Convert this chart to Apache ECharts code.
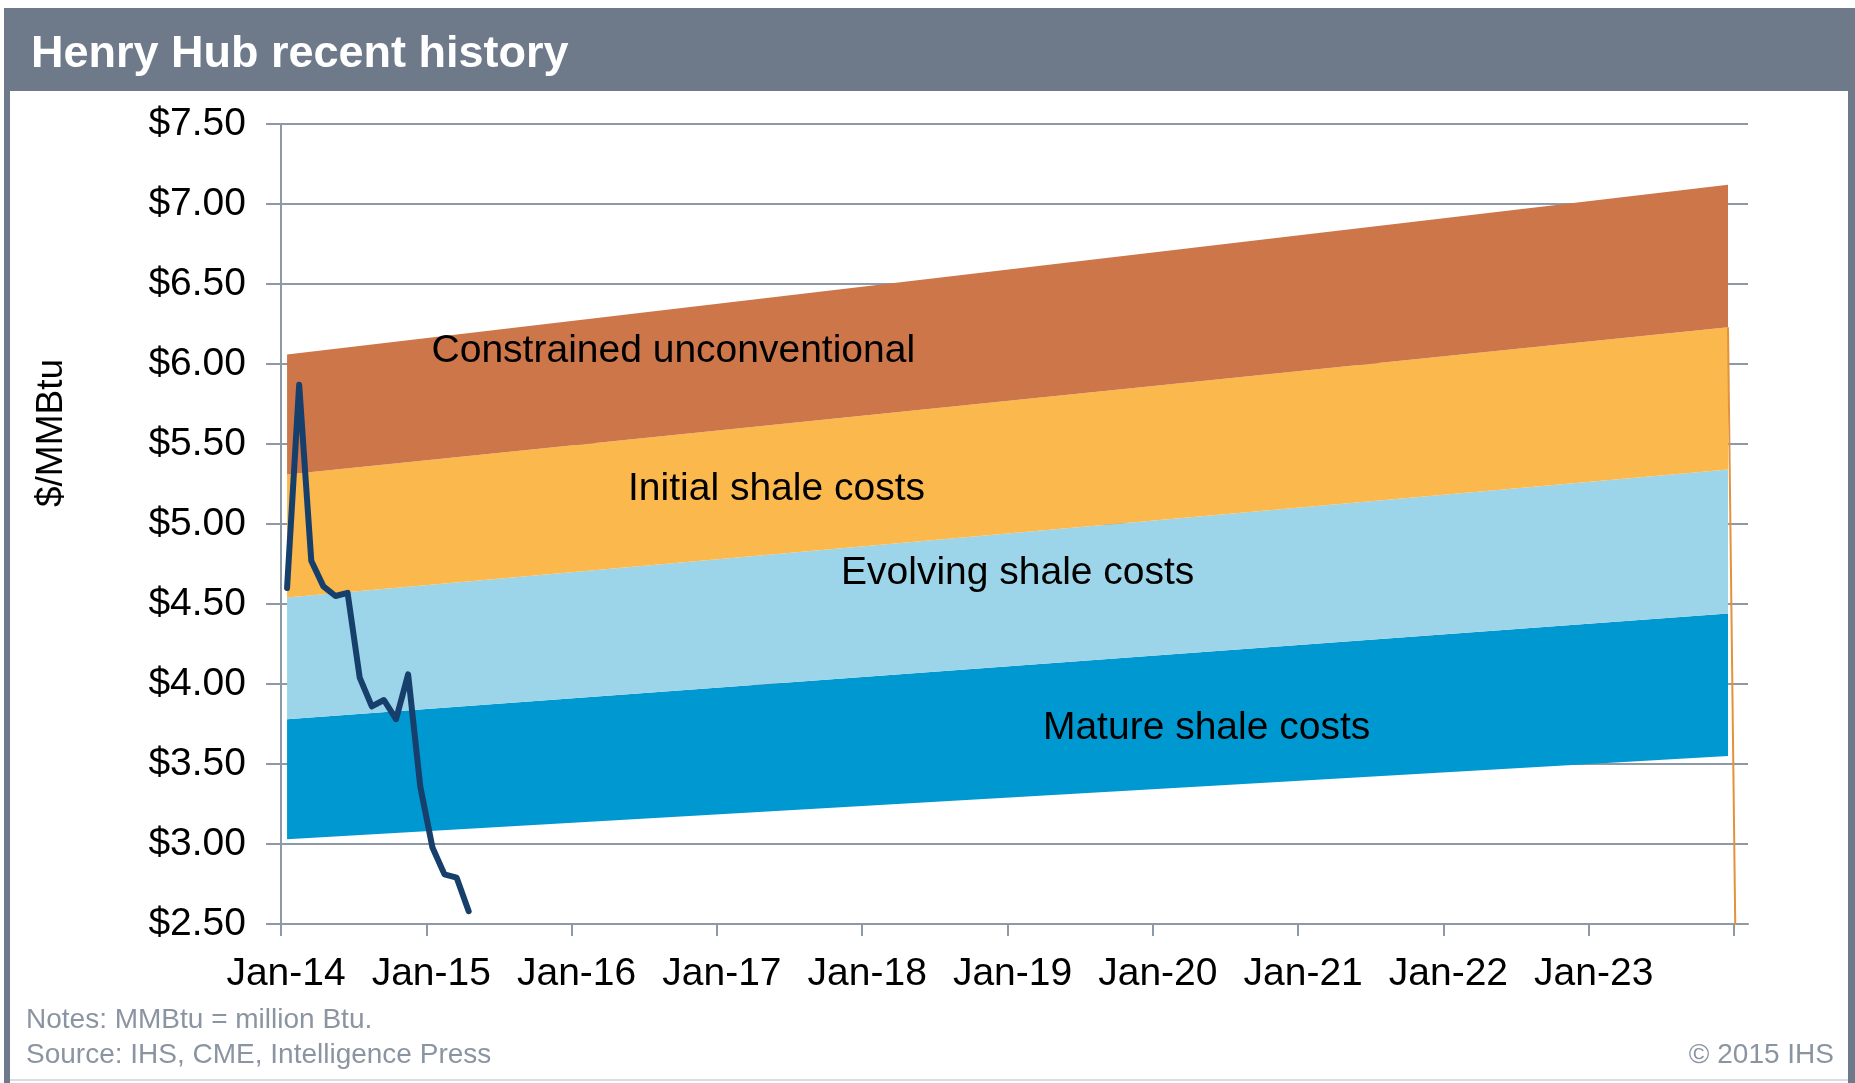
<!DOCTYPE html>
<html>
<head>
<meta charset="utf-8">
<title>Henry Hub recent history</title>
<script src="https://cdn.jsdelivr.net/npm/echarts@6/dist/echarts.min.js"></script>
<style>
  html, body { margin: 0; padding: 0; background: #fff; }
  #chart { width: 1855px; height: 1083px; }
</style>
</head>
<body>
<div id="chart"></div>
<script>
// monthly Henry Hub spot
const hhMonths = ['2014-01', '2014-02', '2014-03', '2014-04', '2014-05', '2014-06', '2014-07', '2014-08',
  '2014-09', '2014-10', '2014-11', '2014-12', '2015-01', '2015-02', '2015-03', '2015-04']
const hhPrice = [4.60, 5.87, 4.77, 4.61, 4.55, 4.57, 4.04, 3.86, 3.90, 3.78, 4.06, 3.36, 2.98, 2.81, 2.79, 2.58]

// cost bands: boundaries at the first and last month
const bandMonths = ['2014-01', '2023-12']
const matureLow = [3.03, 3.55]
const matureHigh = [3.78, 4.44]
const evolvingHigh = [4.54, 5.34]
const initialHigh = [5.31, 6.23]
const constrainedHigh = [6.06, 7.12]

// the stray drop of the initial band after its last month
const dropMonths = ['2023-12', '2024-01']
const dropValues = [6.23, 0]

const bandNames = ['Mature shale costs', 'Evolving shale costs', 'Initial shale costs', 'Constrained unconventional']
const xTickLabels = ['Jan-14', 'Jan-15', 'Jan-16', 'Jan-17', 'Jan-18', 'Jan-19', 'Jan-20', 'Jan-21', 'Jan-22', 'Jan-23']
const xTickYears = [2014, 2015, 2016, 2017, 2018, 2019, 2020, 2021, 2022, 2023, 2024]

const FONT = "'Liberation Sans', Arial, sans-serif"
const FRAME = '#6E7A8A'
const GRID = '#8E99A8'

// low / high boundary, fill and label spot (data units) of every band, bottom to top
const bands = [
  { low: matureLow, high: matureHigh, color: '#0098D0', at: [2020.37, 3.725] },
  { low: matureHigh, high: evolvingHigh, color: '#9CD5E9', at: [2019.07, 4.69] },
  { low: evolvingHigh, high: initialHigh, color: '#FBB84C', at: [2017.41, 5.22] },
  { low: initialHigh, high: constrainedHigh, color: '#CC7649', at: [2016.70, 6.08] }
]

// month string -> decimal year at mid-month
function toYear(s) {
  const [y, m] = s.split('-').map(Number)
  return y + (m - 0.5) / 12
}

function pairs(months, values) {
  return months.map((m, i) => [toYear(m), values[i]])
}

function renderBand(params, api) {
  const b = bands[api.value(0)]
  const xs = bandMonths.map(toYear)
  const lower = xs.map((x, i) => api.coord([x, b.low[i]]))
  const upper = xs.map((x, i) => api.coord([x, b.high[i]])).reverse()
  return {
    type: 'polygon',
    shape: { points: lower.concat(upper) },
    style: { fill: b.color }
  }
}

function renderBandLabel(params, api) {
  const i = api.value(0)
  const p = api.coord(bands[i].at)
  return {
    type: 'text',
    x: p[0],
    y: p[1],
    style: {
      text: bandNames[i],
      fill: '#000',
      fontSize: 39,
      fontFamily: FONT,
      align: 'center',
      verticalAlign: 'middle'
    }
  }
}

const chart = echarts.init(document.getElementById('chart'))

const option = {
  backgroundColor: '#fff',
  animation: false,
  title: {
    text: 'Henry Hub recent history',
    left: 26,
    top: 27,
    textStyle: { color: '#fff', fontSize: 45, fontWeight: 'bold', fontFamily: FONT }
  },
  graphic: [
    { type: 'rect', shape: { x: 4, y: 8, width: 1851, height: 83 }, style: { fill: FRAME }, silent: true },
    { type: 'rect', shape: { x: 4, y: 8, width: 6, height: 1075 }, style: { fill: FRAME }, silent: true },
    { type: 'rect', shape: { x: 1848, y: 8, width: 7, height: 1075 }, style: { fill: FRAME }, silent: true },
    { type: 'rect', shape: { x: 10, y: 1079, width: 1838, height: 2 }, style: { fill: '#D9DDE2' }, silent: true },
    {
      type: 'text', x: 52, y: 433, rotation: Math.PI / 2,
      style: { text: '$/MMBtu', fontSize: 37, fontFamily: FONT, fill: '#000', align: 'center', verticalAlign: 'middle' }
    },
    {
      type: 'text', left: 26, top: 1006,
      style: { text: 'Notes: MMBtu = million Btu.', fontSize: 28, fontFamily: FONT, fill: '#8B95A2' }
    },
    {
      type: 'text', left: 26, top: 1041,
      style: { text: 'Source: IHS, CME, Intelligence Press', fontSize: 28, fontFamily: FONT, fill: '#8B95A2' }
    },
    {
      type: 'text', right: 21, top: 1041,
      style: { text: '\u00a9 2015 IHS', fontSize: 28, fontFamily: FONT, fill: '#8B95A2' }
    }
  ],
  grid: { left: 281, right: 107, top: 124, bottom: 159 },
  xAxis: {
    type: 'value',
    min: 2014,
    max: 2024.096,
    interval: 1,
    axisLine: { show: true, lineStyle: { color: GRID, width: 2 } },
    axisTick: { show: true, length: 12, customValues: xTickYears, lineStyle: { color: GRID, width: 2 } },
    axisLabel: {
      customValues: xTickYears.slice(0, xTickLabels.length),
      margin: 31,
      padding: [0, 0, 0, 10],
      color: '#000',
      fontSize: 39,
      fontFamily: FONT,
      formatter: v => xTickLabels[Math.round(v) - 2014] || ''
    },
    splitLine: { show: false }
  },
  yAxis: {
    type: 'value',
    min: 2.5,
    max: 7.5,
    interval: 0.5,
    axisLine: { show: true, lineStyle: { color: GRID, width: 2 } },
    axisTick: { show: true, length: 15, lineStyle: { color: GRID, width: 2 } },
    axisLabel: {
      margin: 35,
      color: '#000',
      fontSize: 39,
      fontFamily: FONT,
      formatter: v => '$' + v.toFixed(2)
    },
    splitLine: { show: true, lineStyle: { color: GRID, width: 2 } }
  },
  series: [
    {
      name: 'bands',
      type: 'custom',
      silent: true,
      renderItem: renderBand,
      data: bands.map((b, i) => [i]),
      encode: { x: -1, y: -1 },
      z: 2
    },
    {
      name: 'drop',
      type: 'line',
      symbol: 'none',
      silent: true,
      clip: true,
      lineStyle: { color: '#E3923C', width: 2 },
      data: pairs(dropMonths, dropValues),
      z: 3
    },
    {
      name: 'band labels',
      type: 'custom',
      silent: true,
      renderItem: renderBandLabel,
      data: bands.map((b, i) => [i]),
      encode: { x: -1, y: -1 },
      z: 4
    },
    {
      name: 'Henry Hub',
      type: 'line',
      symbol: 'none',
      lineStyle: { color: '#173F6C', width: 6, join: 'round', cap: 'round' },
      data: pairs(hhMonths, hhPrice),
      z: 5
    }
  ]
}

chart.setOption(option)
</script>
</body>
</html>
